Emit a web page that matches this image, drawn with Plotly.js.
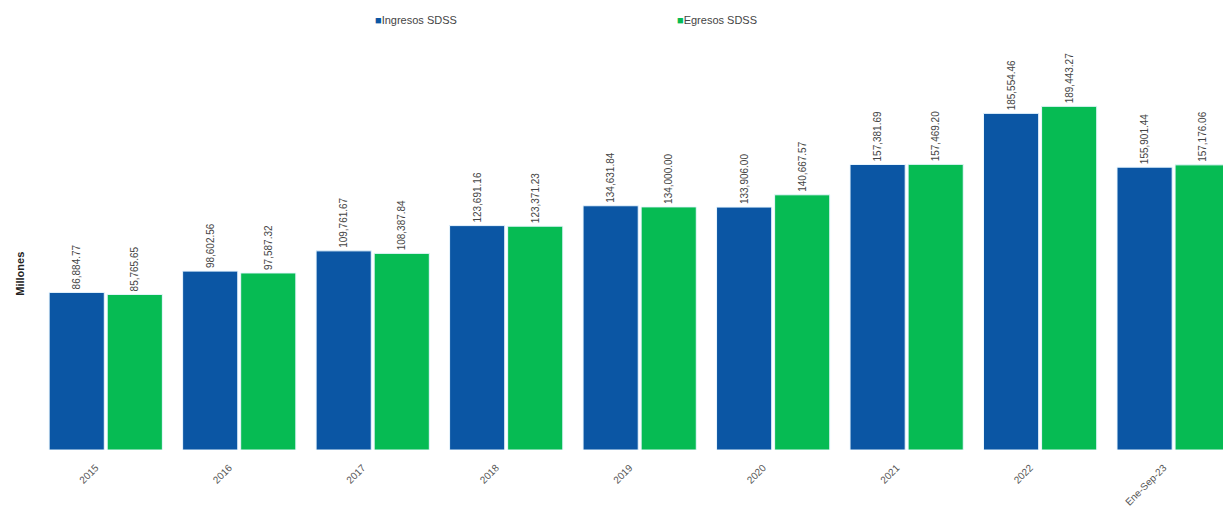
<!DOCTYPE html>
<html>
<head>
<meta charset="utf-8">
<script src="https://cdn.plot.ly/plotly-3.0.1.min.js"></script>
<style>html,body{margin:0;padding:0;background:#fff;overflow:hidden;}</style>
</head>
<body>
<div id="chart" style="width:1223px;height:518px;"></div>
<script>
const categories = ["2015","2016","2017","2018","2019","2020","2021","2022","Ene-Sep-23"];
const ingresos = [86884.77, 98602.56, 109761.67, 123691.16, 134631.84, 133906.00, 157381.69, 185554.46, 155901.44];
const egresos  = [85765.65, 97587.32, 108387.84, 123371.23, 134000.00, 140667.57, 157469.20, 189443.27, 157176.06];
const seriesNames = ["Ingresos SDSS", "Egresos SDSS"];
const colors = ["#0b56a4", "#06bb53"];

const font = "Liberation Sans, Arial, sans-serif";
const mk = (name, y, color) => ({
  type: "bar", name: name, x: categories, y: y,
  marker: {color: color, line: {color: "#eaf7ff", width: 1}},
  texttemplate: "%{y:,.2f}", textposition: "outside", textangle: -90,
  textfont: {family: font, size: 10, color: "#444"},
  cliponaxis: false, hoverinfo: "x+y"
});

const data = [mk(seriesNames[0], ingresos, colors[0]), mk(seriesNames[1], egresos, colors[1])];

const layout = {
  width: 1223, height: 518,
  margin: {l: 39, r: 0, t: 40, b: 68},
  paper_bgcolor: "#fff", plot_bgcolor: "#fff",
  showlegend: false,
  bargap: 0.13, bargroupgap: 0.05,
  font: {family: font, size: 10, color: "#444"},
  xaxis: {type: "category", range: [-0.5, 8.37], tickangle: -45, showgrid: false, zeroline: false,
          showline: false, ticks: "", ticklabelstandoff: 9, ticklabelshift: -10,
          tickfont: {family: font, size: 10, color: "#555"}},
  yaxis: {range: [0, 226000], showgrid: false, zeroline: false, showline: false, showticklabels: false, ticks: ""},
  annotations: [
    {xref: "paper", yref: "paper", x: -0.016, y: 0.43, xanchor: "center", yanchor: "middle",
     text: "<b>Millones</b>", textangle: -90, showarrow: false, font: {family: font, size: 11, color: "#222"}},
    {xref: "paper", yref: "paper", x: 0.282, y: 1.049, xanchor: "left", yanchor: "middle",
     text: "<span style='color:" + colors[0] + "'>■</span>" + seriesNames[0], showarrow: false,
     font: {family: font, size: 11, color: "#444"}},
    {xref: "paper", yref: "paper", x: 0.537, y: 1.049, xanchor: "left", yanchor: "middle",
     text: "<span style='color:" + colors[1] + "'>■</span>" + seriesNames[1], showarrow: false,
     font: {family: font, size: 11, color: "#444"}}
  ]
};

Plotly.newPlot("chart", data, layout, {displayModeBar: false, staticPlot: true});
</script>
</body>
</html>
